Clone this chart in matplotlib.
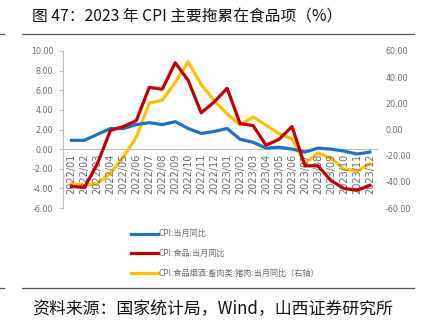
import numpy as np
import matplotlib
matplotlib.use("Agg")
import matplotlib.pyplot as plt
from matplotlib.lines import Line2D

plt.rcParams["font.family"] = ["Noto Sans CJK SC", "DejaVu Sans"]
plt.rcParams["axes.unicode_minus"] = False

months = [f"2022/{m:02d}" for m in range(1, 13)] + [f"2023/{m:02d}" for m in range(1, 13)]
cpi = [0.9, 0.9, 1.5, 2.1, 2.1, 2.5, 2.7, 2.5, 2.8, 2.1, 1.6, 1.8,
       2.1, 1.0, 0.7, 0.1, 0.2, 0.0, -0.3, 0.1, 0.0, -0.2, -0.5, -0.3]
cpi_food = [-3.8, -3.9, -1.5, 1.9, 2.3, 2.9, 6.3, 6.1, 8.8, 7.0, 3.7, 4.8,
            6.2, 2.6, 2.4, 0.4, 1.0, 2.3, -1.7, -1.7, -3.2, -4.0, -4.2, -3.7]
pork = [-41.6, -42.5, -41.4, -33.3, -21.1, -6.0, 20.2, 22.4, 36.0, 51.8, 34.4, 22.2,
        11.8, 3.6, 9.6, 3.4, -3.2, -7.2, -26.0, -17.9, -22.0, -30.1, -31.8, -26.1]
labels = ["CPI:当月同比", "CPI:食品:当月同比", "CPI:食品烟酒:畜肉类:猪肉:当月同比（右轴）"]
colors = ["#1F72C0", "#C00000", "#FFC000"]
GREY = "#6b6b6b"

fig = plt.figure(figsize=(4.21, 3.28), dpi=100)
ax = fig.add_axes([63/421, 1-208/328, (377-63)/421, (208-51)/328])
ax2 = ax.twinx()
ax.spines["bottom"].set_position(("data", 0))

x = np.arange(len(months))
ax.plot(x, cpi, color=colors[0], lw=2.3, zorder=3)
ax.plot(x, cpi_food, color=colors[1], lw=2.3, zorder=3)
ax2.plot(x, pork, color=colors[2], lw=2.3, zorder=2)
ax.set_zorder(ax2.get_zorder() + 1); ax.patch.set_visible(False)

ax.set_xlim(-0.65, 23.55)
ax.set_ylim(-6, 10); ax.set_yticks(np.arange(-6, 11, 2))
ax.set_yticklabels([f"{v:.2f}" for v in np.arange(-6, 11, 2)])
ax2.set_ylim(-60, 60); ax2.set_yticks(np.arange(-60, 61, 20))
ax2.set_yticklabels([f"{v:.2f}" for v in np.arange(-60, 61, 20)])

ax.set_xticks(x); ax.set_xticklabels(months)
ax.spines["bottom"].set_color("#bfbfbf")
ax.spines["left"].set_color("#bfbfbf")
for s in ["top", "right"]:
    ax.spines[s].set_visible(False)
for s in ["top", "right", "left", "bottom"]:
    ax2.spines[s].set_visible(False)
ax.tick_params(axis="x", length=0, pad=3, labelrotation=90, labelsize=7, labelcolor=GREY)
ax.tick_params(axis="y", length=3, color="#bfbfbf", labelsize=5.8, labelcolor=GREY, pad=4)
ax2.tick_params(axis="y", length=0, labelsize=5.8, labelcolor=GREY, pad=6)
for t in ax.get_xticklabels() + ax.get_yticklabels() + ax2.get_yticklabels():
    t.set_family(["DejaVu Sans"])

handles = [Line2D([], [], color=c, lw=2.3) for c in colors]
fig.legend(handles, labels, loc="upper left", bbox_to_anchor=(124/421, 1-222/328),
           frameon=False, fontsize=5.9, handlelength=3.2, handletextpad=0.05,
           labelspacing=1.3, labelcolor=GREY)

fig.text(32/421, 1-16/328, "图 47：2023 年 CPI 主要拖累在食品项（%）", fontsize=11.3,
         va="center", ha="left", color="#111111")
fig.text(32/421, 1-309/328, "资料来源：国家统计局，Wind，山西证券研究所", fontsize=12.2,
         va="center", ha="left", color="#111111")
for yy in (34, 288):
    fig.add_artist(Line2D([22/421, 414/421], [1-yy/328]*2, color="#555555", lw=0.9))
    fig.add_artist(Line2D([0, 4/421], [1-yy/328]*2, color="#555555", lw=0.9))

fig.savefig("out.png", dpi=100)
